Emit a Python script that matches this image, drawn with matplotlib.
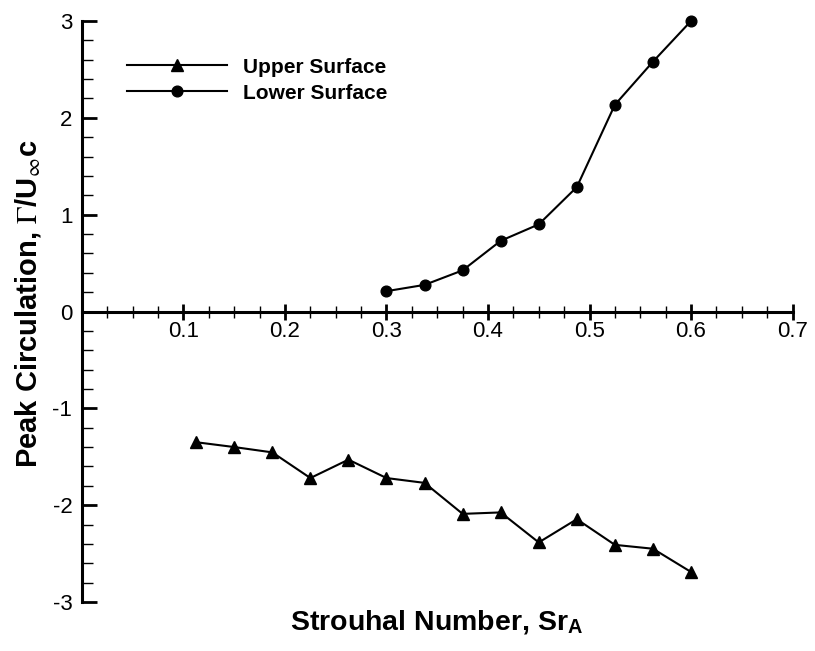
import numpy as np
import matplotlib
matplotlib.use("Agg")
import matplotlib.pyplot as plt
from matplotlib.ticker import MultipleLocator

plt.rcParams['font.family'] = ['Liberation Sans', 'DejaVu Sans']
plt.rcParams['mathtext.fontset'] = 'stix'
plt.rcParams['axes.unicode_minus'] = False

# Strouhal numbers and peak circulation for the two surfaces
sr_upper = [0.1125, 0.15, 0.1875, 0.225, 0.2625, 0.3, 0.3375,
            0.375, 0.4125, 0.45, 0.4875, 0.525, 0.5625, 0.6]
gamma_upper = [-1.35, -1.40, -1.455, -1.72, -1.53, -1.72, -1.77,
               -2.09, -2.075, -2.385, -2.145, -2.41, -2.45, -2.69]

sr_lower = [0.3, 0.3375, 0.375, 0.4125, 0.45, 0.4875, 0.525, 0.5625, 0.6]
gamma_lower = [0.21, 0.275, 0.425, 0.73, 0.90, 1.285, 2.135, 2.58, 3.0]

x_ticks = [0.1, 0.2, 0.3, 0.4, 0.5, 0.6, 0.7]
y_ticks = [-3, -2, -1, 0, 1, 2, 3]

fig = plt.figure(figsize=(8.15, 6.51), dpi=100)
ax = fig.add_axes([0.1006, 0.0753, 0.8718, 0.8924])

ax.plot(sr_upper, gamma_upper, color='black', lw=1.5, marker='^', ms=8.5,
        label='Upper Surface', clip_on=False, zorder=3)
ax.plot(sr_lower, gamma_lower, color='black', lw=1.5, marker='o', ms=7.7,
        label='Lower Surface', clip_on=False, zorder=3)

ax.set_xlim(0, 0.7)
ax.set_ylim(-3, 3)

# axes cross at the origin
ax.spines['left'].set_position(('data', 0))
ax.spines['bottom'].set_position(('data', 0))
ax.spines['top'].set_visible(False)
ax.spines['right'].set_visible(False)
for s in ['left', 'bottom']:
    ax.spines[s].set_linewidth(2.2)
    ax.spines[s].set_capstyle('projecting')

ax.set_xticks(x_ticks)
ax.set_xticklabels([f"{v:.1f}" for v in x_ticks])
ax.set_yticks(y_ticks)
ax.set_yticklabels([str(v) for v in y_ticks])
ax.xaxis.set_minor_locator(MultipleLocator(0.025))
ax.yaxis.set_minor_locator(MultipleLocator(0.2))

ax.tick_params(axis='x', which='major', direction='inout', length=11.5, width=2,
               labelsize=16, pad=1)
ax.tick_params(axis='x', which='minor', direction='inout', length=8.5, width=1)
ax.tick_params(axis='y', which='major', direction='in', length=11, width=2,
               labelsize=16, pad=7)
ax.tick_params(axis='y', which='minor', direction='in', length=8, width=1)

fig.text(437 / 815, 1 - 630 / 651, r'Strouhal Number, Sr$_\mathregular{A}$',
         fontsize=20.5, fontweight='bold', ha='center', va='baseline')
fig.text(37 / 815, 1 - 304 / 651, r'Peak Circulation, $\Gamma$/U$_\infty$c',
         fontsize=21, fontweight='bold', rotation=90, rotation_mode='anchor',
         ha='center', va='baseline')

leg = ax.legend(loc='upper left', bbox_to_anchor=(0.0633, 0.937), frameon=False,
                prop={'weight': 'bold', 'size': 15}, handlelength=4.8,
                handletextpad=0.75, labelspacing=0.34, borderpad=0,
                borderaxespad=0, numpoints=1)

fig.savefig('out.png', dpi=100)
